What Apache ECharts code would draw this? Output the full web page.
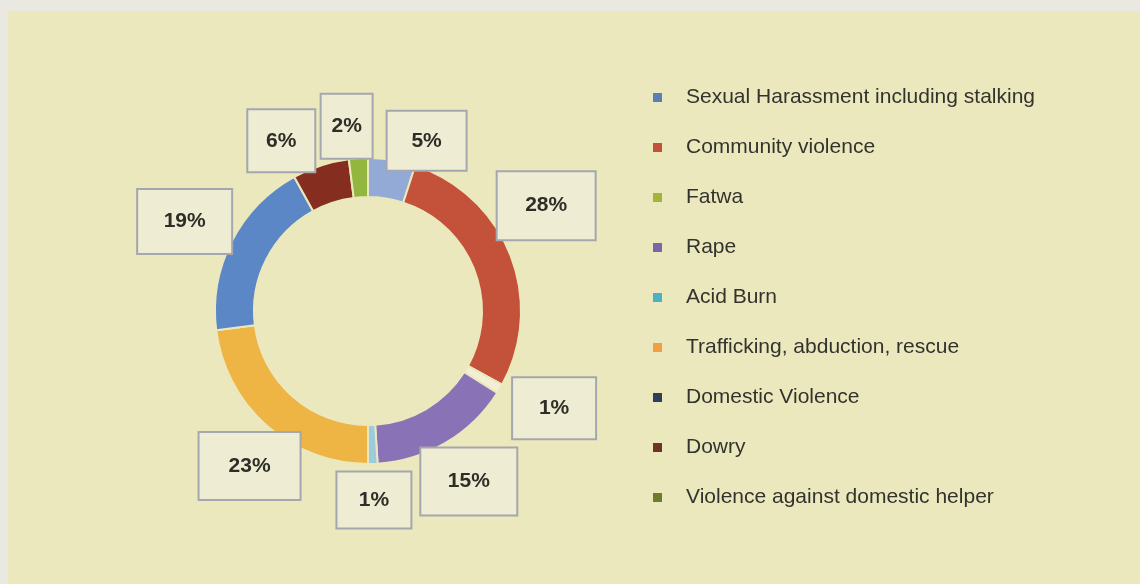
<!DOCTYPE html>
<html>
<head>
<meta charset="utf-8">
<script src="https://cdn.jsdelivr.net/npm/echarts@6/dist/echarts.min.js"></script>
<style>
  html, body { margin: 0; padding: 0; background: #ece8bd; }
  #chart { width: 1140px; height: 584px; }
</style>
</head>
<body>
<div id="chart"></div>
<script>
// Share of reported cases by category (percent)
const categories = [
  'Sexual Harassment including stalking',
  'Community violence',
  'Fatwa',
  'Rape',
  'Acid Burn',
  'Trafficking, abduction, rescue',
  'Domestic Violence',
  'Dowry',
  'Violence against domestic helper'
];
const values = [5, 28, 1, 15, 1, 23, 19, 6, 2];

// Ring segment colours and legend swatch colours
const sliceColors = ['#93a9d6', '#c4513a', '#f2efd6', '#8a72b6', '#9ccbdc', '#eeb444', '#5b87c6', '#852d1f', '#93b63e'];
const legendColors = ['#5a7fb8', '#c0523a', '#a3b43c', '#7a66a6', '#4eb0c4', '#f0a040', '#2f3f5a', '#6e3426', '#6f7a30'];

// Callout boxes: [width, height], radial distance and angular nudge (degrees)
const boxSizes = [[78, 58], [97, 67], [82, 60], [95, 66], [73, 55], [100, 66], [93, 63], [66, 61], [50, 63]];
const boxRadius = [180, 207, 210, 198, 189, 195, 204, 191, 186];
const boxNudge = [10, -9, -3, 0, 0, -4, -1, -9, -3];

const CX = 368, CY = 311, R_OUT = 153, R_IN = 114;
const BG = '#ece8bd';

const total = values.reduce((a, b) => a + b, 0);
const midAngles = [];
let acc = 0;
values.forEach(v => { midAngles.push((acc + v / 2) / total * 360); acc += v; });

const chart = echarts.init(document.getElementById('chart'), null, { renderer: 'canvas' });

const data = categories.map((name, i) => ({
  name,
  value: values[i],
  itemStyle: { color: sliceColors[i] },
  label: {
    width: boxSizes[i][0],
    height: boxSizes[i][1],
    lineHeight: boxSizes[i][1]
  }
}));

chart.setOption({
  backgroundColor: BG,
  animation: false,
  graphic: [
    { type: 'rect', shape: { x: 0, y: 0, width: 1140, height: 11 }, style: { fill: '#e9e8e1' }, z: -1 },
    { type: 'rect', shape: { x: 0, y: 0, width: 8, height: 584 }, style: { fill: '#e9e8e1' }, z: -1 }
  ],
  legend: {
    orient: 'vertical',
    left: 646,
    top: 82,
    itemWidth: 11,
    itemHeight: 11,
    itemGap: 29,
    icon: 'rect',
    selectedMode: false,
    data: categories.map((name, i) => ({ name, itemStyle: { color: legendColors[i] } })),
    textStyle: {
      fontFamily: 'Liberation Sans, Arial, sans-serif',
      fontSize: 21,
      color: '#33332e',
      padding: [0, 0, 0, 18]
    }
  },
  series: [{
    type: 'pie',
    center: [CX, CY],
    radius: [R_IN, R_OUT],
    startAngle: 90,
    clockwise: true,
    avoidLabelOverlap: false,
    itemStyle: { borderColor: BG, borderWidth: 2 },
    label: {
      show: true,
      position: 'outside',
      formatter: p => p.value + '%',
      fontFamily: 'Liberation Sans, Arial, sans-serif',
      fontSize: 21,
      fontWeight: 'bold',
      color: '#2e2e28',
      backgroundColor: '#eeecd2',
      borderColor: '#a4a7ae',
      borderWidth: 2,
      align: 'center',
      verticalAlign: 'middle',
      padding: 0
    },
    labelLine: { show: false },
    labelLayout: function (p) {
      const i = p.dataIndex;
      const a = (midAngles[i] + boxNudge[i]) * Math.PI / 180;
      return {
        x: CX + boxRadius[i] * Math.sin(a),
        y: CY - boxRadius[i] * Math.cos(a),
        align: 'center',
        verticalAlign: 'middle'
      };
    },
    emphasis: { disabled: true },
    data: data
  }]
});
</script>
</body>
</html>
